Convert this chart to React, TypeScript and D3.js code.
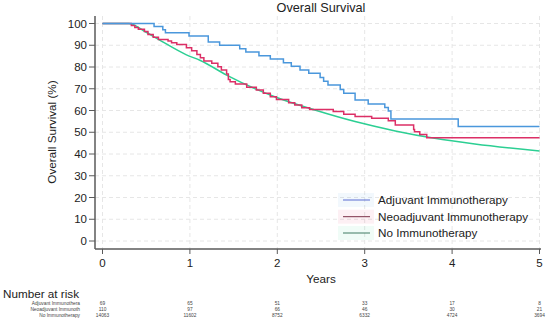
import React, { useEffect, useRef } from "react"
import * as d3 from "d3"

const WIDTH = 550
const HEIGHT = 321
const FONT = "'Liberation Sans', Arial, sans-serif"

// [years, survival %]
const adjuvant: [number, number][] = [
    [0, 100], [0.59, 98.6], [0.69, 97.1], [0.72, 95.7], [0.99, 94.2],
    [1.21, 91.5], [1.34, 90.0], [1.57, 88.4], [1.64, 86.9], [1.79, 85.2],
    [1.92, 83.7], [2.07, 81.9], [2.16, 80.4], [2.26, 78.6], [2.36, 77.1],
    [2.49, 75.2], [2.53, 73.4], [2.58, 71.7], [2.72, 69.6], [2.76, 67.9],
    [2.89, 64.8], [3.04, 63.0], [3.23, 61.4], [3.27, 59.8], [3.30, 56.1],
    [4.07, 52.6], [5.0, 52.6],
]

const neoadjuvant: [number, number][] = [
    [0, 100], [0.33, 99.1], [0.37, 98.2], [0.41, 97.3], [0.48, 96.3],
    [0.52, 95.0], [0.58, 93.7], [0.64, 92.7], [0.75, 92.0], [0.79, 91.2],
    [0.85, 90.4], [0.96, 88.9], [1.02, 87.5], [1.08, 85.8], [1.12, 84.3],
    [1.16, 82.8], [1.25, 81.7], [1.32, 80.1], [1.36, 78.6], [1.42, 76.8],
    [1.44, 74.3], [1.46, 73.2], [1.52, 72.2], [1.65, 70.7], [1.76, 69.4],
    [1.84, 67.9], [1.92, 66.3], [1.99, 65.1], [2.13, 63.6], [2.20, 62.5],
    [2.28, 61.3], [2.37, 60.5], [2.64, 59.5], [2.76, 58.3], [2.89, 57.2],
    [3.08, 56.4], [3.27, 55.3], [3.35, 53.3], [3.56, 51.3], [3.57, 50.2],
    [3.63, 49.0], [3.71, 47.5], [5.0, 47.5],
]

const noImmuno: [number, number][] = [
    [0, 100], [0.3, 100], [0.49, 96.2], [0.64, 92.7], [0.96, 85.6],
    [1.12, 83.0], [1.42, 76.3], [1.97, 66.3], [2.43, 60.2], [2.89, 54.9],
    [3.35, 50.6], [3.8, 47.2], [4.26, 44.6], [5.0, 41.4],
]

const seriesNames = ["Adjuvant Immunotherapy", "Neoadjuvant Immunotherapy", "No Immunotherapy"]
const riskLabels = ["Adjuvant Immunothera", "Neoadjuvant Immunoth", "No Immunotherapy"]
const riskTimes = [0, 1, 2, 3, 4, 5]
const riskAdjuvant = [69, 65, 51, 33, 17, 8]
const riskNeoadjuvant = [110, 97, 66, 46, 30, 21]
const riskNone = [14063, 11602, 8752, 6332, 4724, 3694]

const xTicks = [0, 1, 2, 3, 4, 5]
const yTicks = [0, 10, 20, 30, 40, 50, 60, 70, 80, 90, 100]

const colors = ["#4a97dc", "#dc2f66", "#2ccf93"]
const legendLineColors = ["#5a6cd2", "#7a3048", "#3f7a62"]

const App: React.FC = () => {
    const svgRef = useRef<SVGSVGElement | null>(null)

    useEffect(() => {
        if (!svgRef.current) return
        const svg = d3.select(svgRef.current)
        svg.selectAll("*").remove()

        const x = d3.scaleLinear().domain([0, 5]).range([102.5, 539.5])
        const y = d3.scaleLinear().domain([0, 100]).range([241, 23.5])
        const axisLeftX = 95
        const axisBottomY = 249
        const axisTop = 16
        const axisRight = 541

        svg.append("rect").attr("width", WIDTH).attr("height", HEIGHT).attr("fill", "#fff")

        // grid
        const grid = svg.append("g").attr("stroke", "#e6e6e6").attr("stroke-dasharray", "4,3").attr("stroke-width", 1)
        yTicks.forEach(t => {
            grid.append("line").attr("x1", axisLeftX).attr("x2", axisRight).attr("y1", y(t)).attr("y2", y(t))
        })
        xTicks.forEach(t => {
            grid.append("line").attr("x1", x(t)).attr("x2", x(t)).attr("y1", axisTop).attr("y2", axisBottomY)
        })

        // axes
        const axisColor = "#5a5a5a"
        svg.append("line").attr("x1", axisLeftX).attr("x2", axisLeftX).attr("y1", axisTop).attr("y2", axisBottomY)
            .attr("stroke", axisColor).attr("stroke-width", 1.5)
        svg.append("line").attr("x1", axisLeftX).attr("x2", axisRight).attr("y1", axisBottomY).attr("y2", axisBottomY)
            .attr("stroke", axisColor).attr("stroke-width", 1.5)

        yTicks.forEach(t => {
            svg.append("line").attr("x1", axisLeftX - 6).attr("x2", axisLeftX).attr("y1", y(t)).attr("y2", y(t))
                .attr("stroke", axisColor).attr("stroke-width", 1)
            svg.append("text").attr("x", axisLeftX - 8).attr("y", y(t)).attr("dy", "0.35em")
                .attr("text-anchor", "end").attr("font-size", 11.5).attr("font-family", FONT).attr("fill", "#222")
                .text(t)
        })
        xTicks.forEach(t => {
            svg.append("line").attr("x1", x(t)).attr("x2", x(t)).attr("y1", axisBottomY).attr("y2", axisBottomY + 5)
                .attr("stroke", axisColor).attr("stroke-width", 1)
            svg.append("text").attr("x", x(t)).attr("y", 267).attr("text-anchor", "middle")
                .attr("font-size", 11.5).attr("font-family", FONT).attr("fill", "#222").text(t)
        })

        // titles
        svg.append("text").attr("x", 321).attr("y", 12).attr("text-anchor", "middle")
            .attr("font-size", 12.7).attr("font-family", FONT).attr("fill", "#222").text("Overall Survival")
        svg.append("text").attr("x", 321).attr("y", 283).attr("text-anchor", "middle")
            .attr("font-size", 11.7).attr("font-family", FONT).attr("fill", "#222").text("Years")
        svg.append("text").attr("transform", "translate(56,132) rotate(-90)").attr("text-anchor", "middle")
            .attr("font-size", 11.7).attr("font-family", FONT).attr("fill", "#222").text("Overall Survival (%)")

        // curves
        const stepLine = d3.line<[number, number]>().x(d => x(d[0])).y(d => y(d[1])).curve(d3.curveStepAfter)
        const smoothLine = d3.line<[number, number]>().x(d => x(d[0])).y(d => y(d[1])).curve(d3.curveMonotoneX)

        svg.append("path").attr("d", smoothLine(noImmuno)).attr("fill", "none")
            .attr("stroke", colors[2]).attr("stroke-width", 1.5)
        svg.append("path").attr("d", stepLine(neoadjuvant)).attr("fill", "none")
            .attr("stroke", colors[1]).attr("stroke-width", 1.5)
        svg.append("path").attr("d", stepLine(adjuvant)).attr("fill", "none")
            .attr("stroke", colors[0]).attr("stroke-width", 1.5)

        // legend
        const legendY = [200, 216.7, 233]
        seriesNames.forEach((name, i) => {
            svg.append("rect").attr("x", 338).attr("y", legendY[i] - 7).attr("width", 36).attr("height", 14)
                .attr("fill", colors[i]).attr("opacity", 0.07)
            svg.append("line").attr("x1", 343).attr("x2", 370).attr("y1", legendY[i]).attr("y2", legendY[i])
                .attr("stroke", legendLineColors[i]).attr("stroke-width", 1)
            svg.append("text").attr("x", 378).attr("y", legendY[i]).attr("dy", "0.35em")
                .attr("font-size", 11.7).attr("font-family", FONT).attr("fill", "#222").text(name)
        })

        // number at risk
        svg.append("text").attr("x", 3).attr("y", 298).attr("font-size", 11.7)
            .attr("font-family", FONT).attr("fill", "#222").text("Number at risk")
        const rowY = [303.3, 309.3, 315.7]
        const rows = [riskAdjuvant, riskNeoadjuvant, riskNone]
        rows.forEach((vals, i) => {
            svg.append("text").attr("x", 80).attr("y", rowY[i]).attr("dy", "0.35em").attr("text-anchor", "end")
                .attr("font-size", 4.8).attr("font-family", FONT).attr("fill", "#444").text(riskLabels[i])
            vals.forEach((v, j) => {
                svg.append("text").attr("x", x(riskTimes[j])).attr("y", rowY[i]).attr("dy", "0.35em")
                    .attr("text-anchor", "middle").attr("font-size", 4.8).attr("font-family", FONT)
                    .attr("fill", "#444").text(v)
            })
        })
    }, [])

    return <svg ref={svgRef} width={WIDTH} height={HEIGHT} style={{ position: "absolute", left: 0, top: 0 }} />
}

export default App
